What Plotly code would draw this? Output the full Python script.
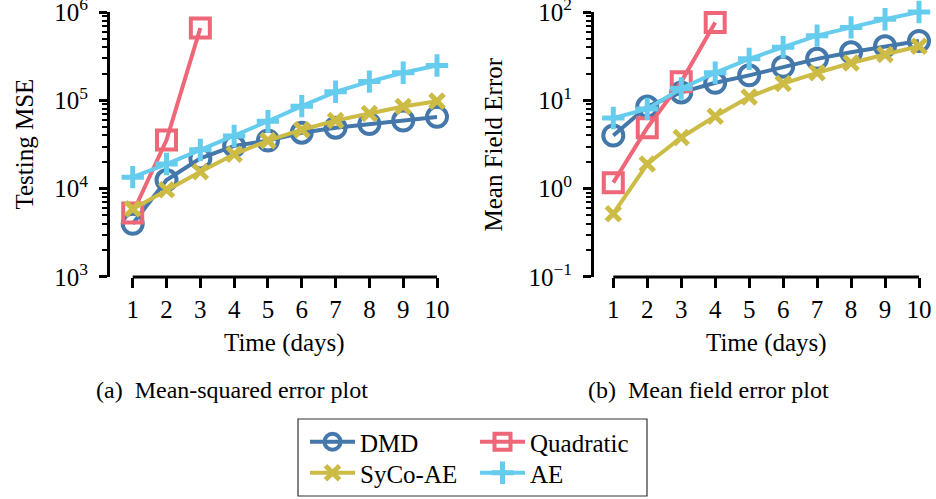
import plotly.graph_objects as go

days = [1, 2, 3, 4, 5, 6, 7, 8, 9, 10]

# Panel (a): Testing MSE
mse_dmd = [4000, 12500, 22000, 30500, 35000, 43000, 49000, 54000, 59000, 65000]
mse_quad = [5300, 35500, 660000]
mse_syco = [5900, 9700, 15500, 24500, 35000, 46500, 59000, 71000, 85000, 98000]
mse_ae = [13500, 19000, 27500, 39500, 58000, 86000, 125000, 163000, 205000, 248000]

# Panel (b): Mean field error
mfe_dmd = [4.0, 8.5, 12.3, 15.8, 19.2, 24.0, 29.5, 35.0, 41.0, 47.0]
mfe_quad = [1.17, 4.9, 16.2, 76.0]
mfe_syco = [0.52, 1.9, 3.8, 6.6, 10.9, 15.5, 20.5, 26.5, 33.0, 41.0]
mfe_ae = [6.3, 8.0, 13.6, 20.5, 29.5, 40.0, 54.0, 67.0, 83.0, 100.0]

names = ["DMD", "Quadratic", "SyCo-AE", "AE"]
colors = ["#4477AA", "#EE6677", "#CCBB44", "#66CCEE"]
symbols = ["circle-open", "square-open", "x-thin", "cross-thin"]
msizes = [20, 19, 14, 16]
legend_ids = ["legend", "legend", "legend2", "legend2"]

left_ticks = [1e3, 1e4, 1e5, 1e6]
left_ticktext = ["10<sup>3</sup>", "10<sup>4</sup>", "10<sup>5</sup>", "10<sup>6</sup>"]
right_ticks = [1e-1, 1e0, 1e1, 1e2]
right_ticktext = ["10<sup>−1</sup>", "10<sup>0</sup>", "10<sup>1</sup>", "10<sup>2</sup>"]

FONT = "Liberation Serif"
FS = 25

fig = go.Figure()

left_series = [mse_dmd, mse_quad, mse_syco, mse_ae]
right_series = [mfe_dmd, mfe_quad, mfe_syco, mfe_ae]

for i, name in enumerate(names):
    for panel, series in ((1, left_series), (2, right_series)):
        ys = series[i]
        fig.add_trace(go.Scatter(
            x=days[:len(ys)], y=ys, name=name,
            mode="lines+markers",
            line=dict(color=colors[i], width=4),
            marker=dict(symbol=symbols[i], size=msizes[i], color=colors[i],
                        line=dict(color=colors[i], width=4 if i < 2 else 5)),
            xaxis="x" if panel == 1 else "x2",
            yaxis="y" if panel == 1 else "y2",
            showlegend=(panel == 1),
            legend=legend_ids[i],
            cliponaxis=False,
        ))

def minor_vals(major):
    vals = []
    for m in major[:-1]:
        vals += [m * k for k in range(2, 10)]
    return vals

xcommon = dict(
    tickmode="array", tickvals=days, ticktext=[str(d) for d in days],
    ticks="outside", ticklen=10, tickwidth=2.5, tickcolor="black",
    showline=False, showgrid=False, zeroline=False, automargin=False,
    tickfont=dict(family=FONT, size=FS, color="black"),
)
ycommon = dict(
    type="log", ticks="outside", ticklen=8, tickwidth=2.5, tickcolor="black",
    showline=True, linewidth=3, linecolor="black", showgrid=False, zeroline=False,
    tickfont=dict(family=FONT, size=FS, color="black"), automargin=False,
    ticklabelstandoff=6, tickmode="array", ticklabeloverflow="allow",
)

fig.update_layout(
    width=936, height=499,
    margin=dict(l=0, r=0, t=0, b=0, autoexpand=False),
    paper_bgcolor="white", plot_bgcolor="white",
    font=dict(family=FONT, size=FS, color="black"),
    xaxis=dict(domain=[110/936, 437/936], range=[0.328, 10], anchor="y", **xcommon),
    yaxis=dict(domain=[1-277/499, 1-12/499], range=[2.9995, 6.0005], anchor="x",
               tickvals=left_ticks, ticktext=left_ticktext,
               minor=dict(tickvals=minor_vals(left_ticks), ticks="outside", ticklen=5,
                          tickwidth=2, tickcolor="black", showgrid=False),
               **ycommon),
    xaxis2=dict(domain=[594/936, 919/936], range=[0.432, 10], anchor="y2", **xcommon),
    yaxis2=dict(domain=[1-277/499, 1-12/499], range=[-1.0005, 2.0005], anchor="x2",
                tickvals=right_ticks, ticktext=right_ticktext,
                minor=dict(tickvals=minor_vals(right_ticks), ticks="outside", ticklen=5,
                           tickwidth=2, tickcolor="black", showgrid=False),
                **ycommon),
    legend=dict(orientation="h", x=305/936, xanchor="left", y=1-442/499, yanchor="middle",
                bgcolor="rgba(0,0,0,0)", borderwidth=0, itemwidth=45,
                entrywidth=110, entrywidthmode="pixels",
                font=dict(family=FONT, size=FS, color="black")),
    legend2=dict(orientation="h", x=305/936, xanchor="left", y=1-473/499, yanchor="middle",
                 bgcolor="rgba(0,0,0,0)", borderwidth=0, itemwidth=45,
                 entrywidth=110, entrywidthmode="pixels",
                 font=dict(family=FONT, size=FS, color="black")),
)

# separate x-axis lines spanning the data range
for xr, yr in (("x", "y domain"), ("x2", "y2 domain")):
    fig.add_shape(type="line", xref=xr, yref=yr, x0=days[0], x1=days[-1], y0=0, y1=0,
                  line=dict(color="black", width=3))

# legend frame
fig.add_shape(type="rect", xref="paper", yref="paper",
              x0=298/936, x1=647/936, y0=1-496/499, y1=1-419/499,
              line=dict(color="#333333", width=1.2), fillcolor="rgba(0,0,0,0)")

# axis titles
fig.add_annotation(text="Testing MSE", xref="paper", yref="y domain", x=24/936, y=0.5,
                   textangle=-90, showarrow=False, xanchor="center", yanchor="middle",
                   font=dict(family=FONT, size=FS))
fig.add_annotation(text="Mean Field Error", xref="paper", yref="y2 domain", x=493/936, y=0.5,
                   textangle=-90, showarrow=False, xanchor="center", yanchor="middle",
                   font=dict(family=FONT, size=FS))
fig.add_annotation(text="Time (days)", xref="x", yref="paper", x=5.5, y=1-343/499,
                   showarrow=False, xanchor="center", yanchor="middle",
                   font=dict(family=FONT, size=FS))
fig.add_annotation(text="Time (days)", xref="x2", yref="paper", x=5.5, y=1-343/499,
                   showarrow=False, xanchor="center", yanchor="middle",
                   font=dict(family=FONT, size=FS))
# captions
fig.add_annotation(text="(a)  Mean-squared error plot", xref="paper", yref="paper",
                   x=232/936, y=1-390/499, showarrow=False, xanchor="center", yanchor="middle",
                   font=dict(family=FONT, size=24))
fig.add_annotation(text="(b)  Mean field error plot", xref="paper", yref="paper",
                   x=708/936, y=1-390/499, showarrow=False, xanchor="center", yanchor="middle",
                   font=dict(family=FONT, size=24))

fig.write_html("out.html")
